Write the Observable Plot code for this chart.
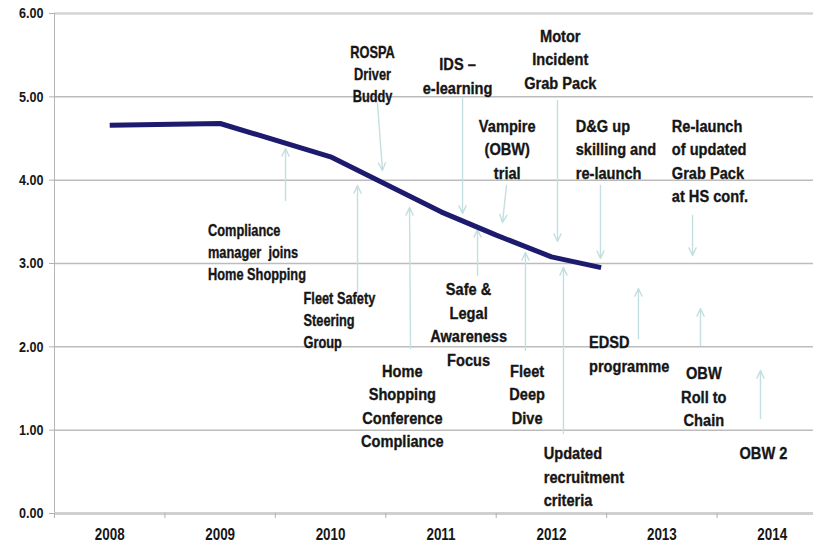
<!DOCTYPE html>
<html>
<head>
<meta charset="utf-8">
<script src="https://cdn.jsdelivr.net/npm/d3@7"></script>
<script src="https://cdn.jsdelivr.net/npm/@observablehq/plot@0.6"></script>
<style>
  html, body { margin: 0; padding: 0; background: #ffffff; }
  #chart svg { display: block; }
</style>
</head>
<body>
<div id="chart"></div>
<script>
// ---- data ----
const years = [2008, 2009, 2010, 2011, 2012, 2013, 2014];
const yTicks = [0, 1, 2, 3, 4, 5, 6];

// trend line (year, value)
const lineYears  = [2008, 2009, 2010, 2010.5, 2011, 2011.5, 2012, 2012.45];
const lineValues = [4.66, 4.68, 4.28, 3.95, 3.62, 3.34, 3.08, 2.95];

// annotations: text, anchor point (year, value of first-line top)
const noteText = [
  "ROSPA\nDriver\nBuddy",
  "IDS –\ne-learning",
  "Motor\nIncident\nGrab Pack",
  "Vampire\n(OBW)\ntrial",
  "D&G up\nskilling and\nre-launch",
  "Re-launch\nof updated\nGrab Pack\nat HS conf.",
  "Compliance\nmanager  joins\nHome Shopping",
  "Fleet Safety\nSteering\nGroup",
  "Home\nShopping\nConference\nCompliance",
  "Safe &\nLegal\nAwareness\nFocus",
  "Fleet\nDeep\nDive",
  "Updated\nrecruitment\ncriteria",
  "EDSD\nprogramme",
  "OBW\nRoll to\nChain",
  "OBW 2"
];
const noteX = [2010.38, 2011.15, 2012.08, 2011.60, 2012.22, 2013.09, 2008.89, 2009.755, 2010.65, 2011.25, 2011.78, 2011.93, 2012.34, 2013.38, 2013.92];
const noteY = [5.65, 5.52, 5.86, 4.78, 4.78, 4.78, 3.52, 2.70, 1.84, 2.82, 1.84, 0.85, 2.18, 1.81, 0.85];
const leftAligned = [4, 5, 6, 7, 11, 12];
const smallNotes = [0, 6, 7];

// arrows: tail (x1,y1) -> head (x2,y2)
const arrowX1 = [2010.425, 2011.195, 2012.055, 2011.593, 2012.444, 2013.278, 2009.592, 2010.244, 2010.724, 2011.331, 2011.765, 2012.109, 2012.788, 2013.35, 2013.893];
const arrowY1 = [4.92, 4.98, 4.956, 3.936, 3.936, 3.576, 3.756, 2.652, 1.98, 2.856, 1.956, 0.96, 2.10, 2.016, 1.14];
const arrowX2 = [2010.47, 2011.195, 2012.055, 2011.557, 2012.444, 2013.278, 2009.592, 2010.244, 2010.715, 2011.331, 2011.765, 2012.109, 2012.788, 2013.35, 2013.893];
const arrowY2 = [4.116, 3.60, 3.264, 3.492, 3.06, 3.096, 4.38, 3.936, 3.672, 3.408, 3.132, 2.952, 2.70, 2.46, 1.716];

// ---- build ----
const boundaries = years.map(y => y - 0.5);
const lineData = lineYears.map((y, i) => ({year: y, value: lineValues[i]}));
const notes = noteText.map((t, i) => ({
  text: t, x: noteX[i], y: noteY[i],
  left: leftAligned.includes(i), small: smallNotes.includes(i)
}));
const arrows = arrowX1.map((x, i) => ({x1: x, y1: arrowY1[i], x2: arrowX2[i], y2: arrowY2[i]}));

const FONT = "'Liberation Sans', Arial, sans-serif";
const INK = "#161616";

function noteMark(left, small) {
  return Plot.text(notes.filter(d => d.left === left && d.small === small), {
    x: "x", y: "y", text: "text",
    textAnchor: left ? "start" : "middle",
    lineAnchor: "top",
    lineHeight: small ? 1.38 : 1.38,
    fontSize: small ? 16 : 17,
    fontWeight: "bold",
    fill: INK,
    stroke: INK,
    strokeWidth: 0.35,
    className: small ? "note-small" : "note-large"
  });
}

const chart = Plot.plot({
  width: 813,
  height: 545,
  marginLeft: 54,
  marginRight: 0,
  marginTop: 13,
  marginBottom: 32,
  style: {fontFamily: FONT, background: "#ffffff", overflow: "hidden"},
  x: {domain: [2007.5, 2014.5], range: [54, 827]},
  y: {domain: [0, 6], range: [513, 13]},
  marks: [
    Plot.ruleY([1, 2, 3, 4, 5], {stroke: "#bcbcbc", strokeWidth: 1.5}),
    Plot.ruleY([6], {stroke: "#d4d4d4", strokeWidth: 2.5}),
    Plot.ruleX([2007.5], {y1: 0, y2: 6, stroke: "#b4b4b4", strokeWidth: 1}),
    Plot.ruleY([0], {stroke: "#d0d0d0", strokeWidth: 3}),
    Plot.axisX({ticks: boundaries, tickSize: 5, tickFormat: () => "", stroke: "#b0b0b0"}),
    Plot.axisX({ticks: years, tickSize: 0, tickPadding: 14, tickFormat: d => String(d),
      fontSize: 17, fontWeight: "bold", fill: INK, className: "xlab"}),
    Plot.axisY({ticks: yTicks, tickSize: 5, tickPadding: 6, tickFormat: d => d.toFixed(2),
      fontSize: 15, fontWeight: "bold", fill: INK, stroke: "#b0b0b0"}),
    Plot.arrow(arrows, {x1: "x1", y1: "y1", x2: "x2", y2: "y2",
      stroke: "#c3dfdf", strokeWidth: 1.4, headLength: 9, headAngle: 50}),
    Plot.line(lineData, {x: "year", y: "value", stroke: "#1d1b6e", strokeWidth: 5,
      strokeLinejoin: "round", strokeLinecap: "butt"}),
    noteMark(false, true),
    noteMark(true, true),
    noteMark(false, false),
    noteMark(true, false)
  ]
});

// emulate the condensed (narrow) typeface of the original: squeeze glyphs horizontally
// about each text's own anchor point
d3.select(chart).selectAll("text").each(function () {
  let s = 0.84;
  if (this.closest(".note-large")) s = 0.86;
  else if (this.closest(".note-small")) s = 0.80;
  else if (this.closest(".xlab")) s = 0.79;
  const t = this.getAttribute("transform") || "";
  this.setAttribute("transform", (t + ` scale(${s},1)`).trim());
});
document.getElementById("chart").appendChild(chart);
</script>
</body>
</html>
